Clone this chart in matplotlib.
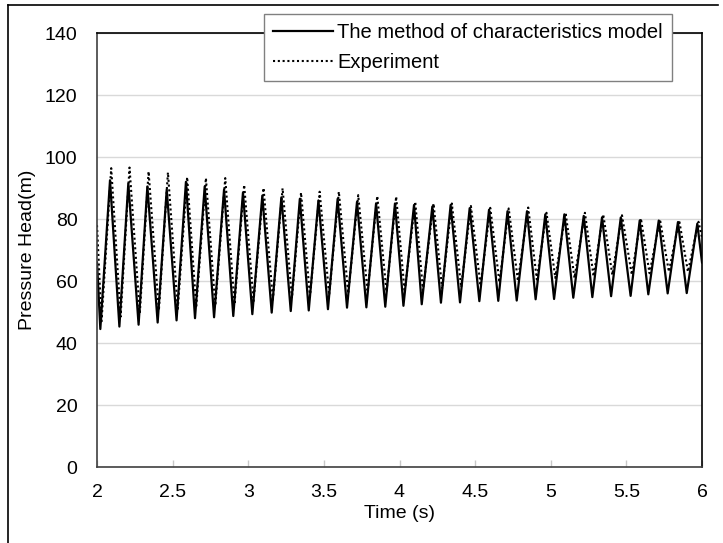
import matplotlib
matplotlib.use("Agg")
import matplotlib.pyplot as plt
from matplotlib.lines import Line2D
import numpy as np

FONT = "Liberation Sans"
FONT_SIZE = 14

# values (time in s, head in m)
model_start = (2.000, 66.0)
model_end = (6.000, 66.0)
model_peak_t = [2.086, 2.207, 2.333, 2.461, 2.588, 2.712, 2.840, 2.965, 3.093, 3.219,
                3.341, 3.464, 3.591, 3.719, 3.845, 3.970, 4.096, 4.217, 4.338, 4.464,
                4.592, 4.714, 4.843, 4.964, 5.090, 5.218, 5.339, 5.463, 5.588, 5.714,
                5.841, 5.969]
model_peak_h = [92.5, 91.5, 90.5, 89.5, 92.0, 90.5, 89.5, 88.5, 87.5, 87.0,
                86.5, 86.0, 86.5, 85.5, 85.0, 85.0, 84.5, 84.0, 84.5, 83.5,
                83.0, 82.5, 82.5, 81.5, 81.5, 81.0, 80.5, 80.5, 79.5, 79.5,
                79.0, 78.5]
model_trough_t = [2.022, 2.148, 2.275, 2.401, 2.526, 2.648, 2.774, 2.901, 3.027, 3.155,
                  3.281, 3.400, 3.527, 3.653, 3.781, 3.906, 4.026, 4.147, 4.274, 4.400,
                  4.528, 4.653, 4.775, 4.900, 5.022, 5.149, 5.275, 5.399, 5.528, 5.645,
                  5.773, 5.899]
model_trough_h = [44.5, 45.3, 45.9, 46.6, 47.3, 48.0, 48.3, 48.7, 49.3, 49.8,
                  50.3, 50.5, 50.9, 51.4, 51.5, 51.7, 52.0, 52.5, 53.0, 53.1,
                  53.5, 53.6, 53.7, 54.1, 54.2, 54.6, 54.8, 55.1, 55.2, 55.7,
                  56.0, 56.1]

exp_start = (2.000, 78.0)
exp_end = (6.000, 74.0)
exp_peak_t = [2.094, 2.215, 2.341, 2.469, 2.596, 2.720, 2.848, 2.973, 3.101, 3.227,
              3.349, 3.472, 3.599, 3.727, 3.853, 3.978, 4.104, 4.225, 4.346, 4.472,
              4.600, 4.722, 4.851, 4.972, 5.098, 5.226, 5.347, 5.471, 5.596, 5.722,
              5.849, 5.977]
exp_peak_h = [96.4, 96.6, 95.3, 95.0, 93.5, 93.2, 93.2, 91.0, 90.0, 89.9,
              88.5, 88.8, 88.8, 87.7, 87.4, 87.2, 85.6, 85.0, 85.0, 84.2,
              83.6, 83.4, 83.7, 82.0, 82.0, 82.0, 81.5, 81.2, 80.2, 79.9,
              79.6, 79.1]
exp_trough_t = [2.030, 2.156, 2.283, 2.409, 2.534, 2.656, 2.782, 2.909, 3.035, 3.163,
                3.289, 3.408, 3.535, 3.661, 3.789, 3.914, 4.034, 4.155, 4.282, 4.408,
                4.536, 4.661, 4.783, 4.908, 5.030, 5.157, 5.283, 5.407, 5.536, 5.653,
                5.781, 5.907]
exp_trough_h = [47.0, 48.5, 49.5, 50.5, 51.0, 51.5, 52.0, 52.5, 53.5, 54.0,
                54.5, 55.0, 55.5, 56.0, 56.5, 56.5, 56.5, 57.0, 57.5, 58.0,
                58.5, 59.5, 60.0, 60.5, 61.0, 61.0, 61.5, 62.0, 62.0, 62.5,
                63.0, 63.0]

x_ticks = [2, 2.5, 3, 3.5, 4, 4.5, 5, 5.5, 6]
x_tick_labels = ["2", "2.5", "3", "3.5", "4", "4.5", "5", "5.5", "6"]
y_ticks = [0, 20, 40, 60, 80, 100, 120, 140]


def build_series(start, troughs_t, troughs_h, peaks_t, peaks_h, end):
    # trough comes first in each cycle
    t = [start[0]]
    h = [start[1]]
    for tt, th, pt, ph in zip(troughs_t, troughs_h, peaks_t, peaks_h):
        t += [tt, pt]
        h += [th, ph]
    t.append(end[0])
    h.append(end[1])
    return np.array(t), np.array(h)


model_t, model_h = build_series(model_start, model_trough_t, model_trough_h,
                                model_peak_t, model_peak_h, model_end)
exp_t, exp_h = build_series(exp_start, exp_trough_t, exp_trough_h,
                            exp_peak_t, exp_peak_h, exp_end)

fig = plt.figure(figsize=(7.23, 5.43), dpi=100)
ax = fig.add_axes([97 / 723, 1 - 467 / 543, 605 / 723, 434 / 543])

ax.plot(model_t, model_h, color="black", linewidth=1.6, solid_joinstyle="round",
        label="The method of characteristics model")
ax.plot(exp_t, exp_h, color="black", linewidth=1.5, linestyle=(0, (1, 1.3)),
        label="Experiment")

ax.set_xlim(2, 6)
ax.set_ylim(0, 140)
ax.set_xticks(x_ticks)
ax.set_xticklabels(x_tick_labels)
ax.set_yticks(y_ticks)
ax.yaxis.grid(True, color="#d9d9d9", linewidth=1)
ax.set_axisbelow(True)

for s in ax.spines.values():
    s.set_color("black")
    s.set_linewidth(1.2)
ax.spines["left"].set_color("#404040")
ax.spines["bottom"].set_color("#404040")

ax.tick_params(axis="x", direction="in", length=5, width=1, color="#c8c8c8",
               pad=12, labelsize=FONT_SIZE, top=False)
ax.tick_params(axis="y", length=0, pad=14, labelsize=FONT_SIZE, right=False)
for lab in ax.get_xticklabels() + ax.get_yticklabels():
    lab.set_fontfamily(FONT)

ax.set_xlabel("Time (s)", fontfamily=FONT, fontsize=FONT_SIZE, labelpad=3)
ax.set_ylabel("Pressure Head(m)", fontfamily=FONT, fontsize=FONT_SIZE, labelpad=6)

leg = ax.legend(loc="upper center", bbox_to_anchor=(468 / 723, 1 - 14 / 543),
                bbox_transform=fig.transFigure, prop={"family": FONT, "size": 14.5},
                frameon=True, fancybox=False, handlelength=3.0, handletextpad=0.2,
                borderpad=0.45, labelspacing=0.55, borderaxespad=0)
leg.get_frame().set_edgecolor("#808080")
leg.get_frame().set_linewidth(1.0)
leg.get_frame().set_alpha(1)

# thin page border seen at top and left of the picture
fig.add_artist(Line2D([8 / 723, 718 / 723], [1 - 5 / 543, 1 - 5 / 543],
                      transform=fig.transFigure, color="black", linewidth=1.2))
fig.add_artist(Line2D([8 / 723, 8 / 723], [1 - 5 / 543, 0],
                      transform=fig.transFigure, color="black", linewidth=1.2))

fig.savefig("out.png", dpi=100)
